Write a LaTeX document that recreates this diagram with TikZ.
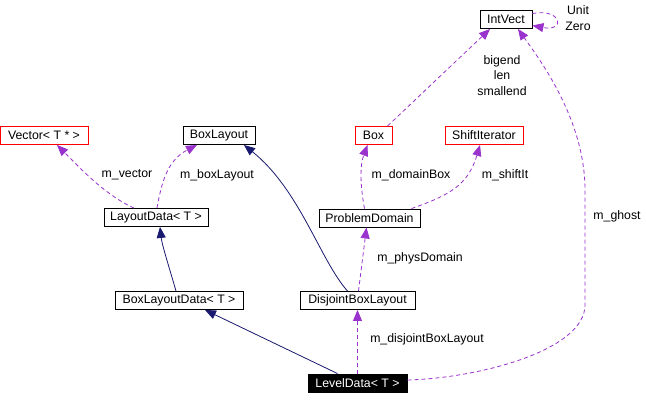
\documentclass[tikz,border=0pt]{standalone}
\usepackage{fontspec}
\setmainfont{Liberation Sans}
\usetikzlibrary{arrows.meta}
\definecolor{edgep}{HTML}{9A32CD}
\definecolor{edgen}{HTML}{191970}
\begin{document}
\begin{tikzpicture}[x=1pt,y=-1pt,
  font=\fontsize{12.3}{14}\selectfont,
  cls/.style={draw=black, line width=0.9pt, inner sep=0pt, minimum height=18pt, fill=white},
  redcls/.style={cls, draw=red},
  blackcls/.style={cls, fill=black, text=white},
  usage/.style={draw=edgep, dash pattern=on 4pt off 3pt, line width=0.8pt, -{Triangle[length=11pt,width=9pt]}},
  inherit/.style={draw=edgen, line width=0.8pt, -{Triangle[length=11pt,width=9pt]}},
  lbl/.style={inner sep=0pt, align=center}]
\useasboundingbox[fill=white] (0,0) rectangle (646,405);
% nodes
\node[cls, minimum width=52pt] (iv) at (506,19.5) {IntVect};
\node[redcls, minimum width=88pt] (vec) at (44,135.5) {Vector< T * >};
\node[cls, minimum width=72pt] (bl) at (219,135.5) {BoxLayout};
\node[redcls, minimum width=37pt] (box) at (373.5,135.5) {Box};
\node[redcls, minimum width=78pt] (si) at (484,135.5) {ShiftIterator};
\node[cls, minimum width=104pt] (ld) at (156,217.5) {LayoutData< T >};
\node[cls, minimum width=101pt] (pd) at (369.5,218) {ProblemDomain};
\node[cls, minimum width=128pt] (bld) at (179,300.5) {BoxLayoutData< T >};
\node[cls, minimum width=115pt] (dbl) at (357.5,300.5) {DisjointBoxLayout};
\node[blackcls, minimum width=99pt] (lvd) at (357.5,383) {LevelData< T >};
% labels
\node[lbl] (lvec) at (127,175) {m\_vector};
\node[lbl] (lbl1) at (217,175) {m\_boxLayout};
\node[lbl] (ldb) at (411,175) {m\_domainBox};
\node[lbl] (lsi) at (505,175) {m\_shiftIt};
\node[lbl] (lbig) at (502,75.5) {bigend\\[1.5pt]len\\[1.5pt]smallend};
\node[lbl] (luz) at (578,18) {Unit\\[1.5pt]Zero};
\node[lbl] (lpd) at (420,258) {m\_physDomain};
\node[lbl] (ldbl) at (427,339) {m\_disjointBoxLayout};
\node[lbl] (lgh) at (617,216) {m\_ghost};
% edges
\draw[usage] ([xshift=-22pt]ld.north) .. controls (105,195) and (80,168) .. ([xshift=13pt]vec.south);
\draw[usage] ([xshift=1pt]ld.north) .. controls (162,180) and (168,160) .. ([xshift=-22pt]bl.south);
\draw[inherit] ([xshift=-3pt]bld.north) .. controls (170,270) and (162,245) .. ([xshift=4pt]ld.south);
\draw[inherit] ([xshift=-10pt]dbl.north) .. controls (320,260) and (300,190) .. ([xshift=25pt]bl.south);
\draw[usage] ([xshift=1pt]dbl.north) -- ([xshift=-3pt]pd.south);
\draw[usage] ([xshift=-5pt]pd.north) .. controls (360,185) and (360,165) .. ([xshift=-6pt]box.south);
\draw[usage] ([xshift=42pt]pd.north) .. controls (450,195) and (468,185) .. ([xshift=-4pt]si.south);
\draw[usage] ([xshift=14pt]box.north) -- ([xshift=-16pt]iv.south);
\draw[usage] ([yshift=6pt]iv.east) .. controls (562,8) and (566,32) .. ([yshift=-6pt]iv.east);
\draw[inherit] ([xshift=-20pt]lvd.north) -- ([xshift=26pt]bld.south);
\draw[usage] (lvd.north) -- (dbl.south);
\draw[usage] ([yshift=3pt]lvd.east) .. controls (480,378) and (585,350) .. (585,305) -- (585,190) .. controls (585,120) and (540,60) .. ([xshift=12pt]iv.south);
\end{tikzpicture}
\end{document}
